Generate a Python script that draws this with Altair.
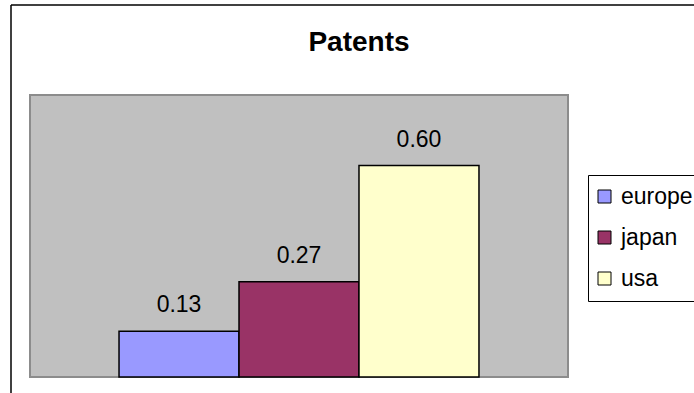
import altair as alt
import pandas as pd

# Patent shares by region
regions = ["europe", "japan", "usa"]
shares = [0.13, 0.27, 0.60]
palette = ["#9999FF", "#993366", "#FFFFCC"]

df = pd.DataFrame({"region": regions, "share": shares})

FONT = "Liberation Sans"

x_enc = alt.X(
    "region:N",
    sort=regions,
    axis=None,
    scale=alt.Scale(paddingInner=0, paddingOuter=0.742),
)
y_enc = alt.Y("share:Q", axis=None, scale=alt.Scale(domain=[0, 0.8], nice=False))

bars = alt.Chart(df).mark_bar(stroke="black", strokeWidth=1.5).encode(
    x=x_enc,
    y=y_enc,
    fill=alt.Fill(
        "region:N",
        sort=regions,
        scale=alt.Scale(domain=regions, range=palette),
        legend=alt.Legend(
            title=None,
            orient="none",
            legendX=558,
            legendY=80,
            fillColor="white",
            strokeColor="black",
            cornerRadius=0,
            padding=10,
            labelFont=FONT,
            labelFontSize=23,
            labelColor="black",
            labelOffset=5,
            rowPadding=17,
            symbolType="square",
            symbolSize=169,
            symbolOffset=-5,
            symbolStrokeColor="black",
            symbolStrokeWidth=1,
            symbolOpacity=1,
        ),
    ),
)

labels = alt.Chart(df).mark_text(
    font=FONT, fontSize=23, color="black", baseline="alphabetic", dy=-19
).encode(
    x=x_enc,
    y=y_enc,
    text=alt.Text("share:Q", format=".2f"),
)

# outer chart frame (left and top edges)
frame_df = pd.DataFrame({"k": [0]})
frame_left = alt.Chart(frame_df).mark_rule(color="black", strokeWidth=1.5).encode(
    x=alt.value(-19), y=alt.value(-90), y2=alt.value(310)
)
frame_top = alt.Chart(frame_df).mark_rule(color="black", strokeWidth=1.5).encode(
    x=alt.value(-19), x2=alt.value(700), y=alt.value(-90)
)

chart = (
    alt.layer(bars, labels, frame_left, frame_top)
    .properties(
        width=538,
        height=282,
        autosize=alt.AutoSizeParams(type="none"),
        padding={"left": 30, "top": 95, "right": 126, "bottom": 16},
        title=alt.TitleParams(
            text="Patents",
            font=FONT,
            fontSize=28,
            fontWeight="bold",
            color="black",
            anchor="middle",
            frame="group",
            baseline="alphabetic",
            dx=60,
            dy=75,
            offset=0,
        ),
        background="white",
    )
    .configure_view(fill="#C0C0C0", stroke="#8C8C8C", strokeWidth=2)
    .configure_legend(strokeWidth=1)
)

chart.save("out.html", embed_options={"renderer": "svg", "actions": False})
